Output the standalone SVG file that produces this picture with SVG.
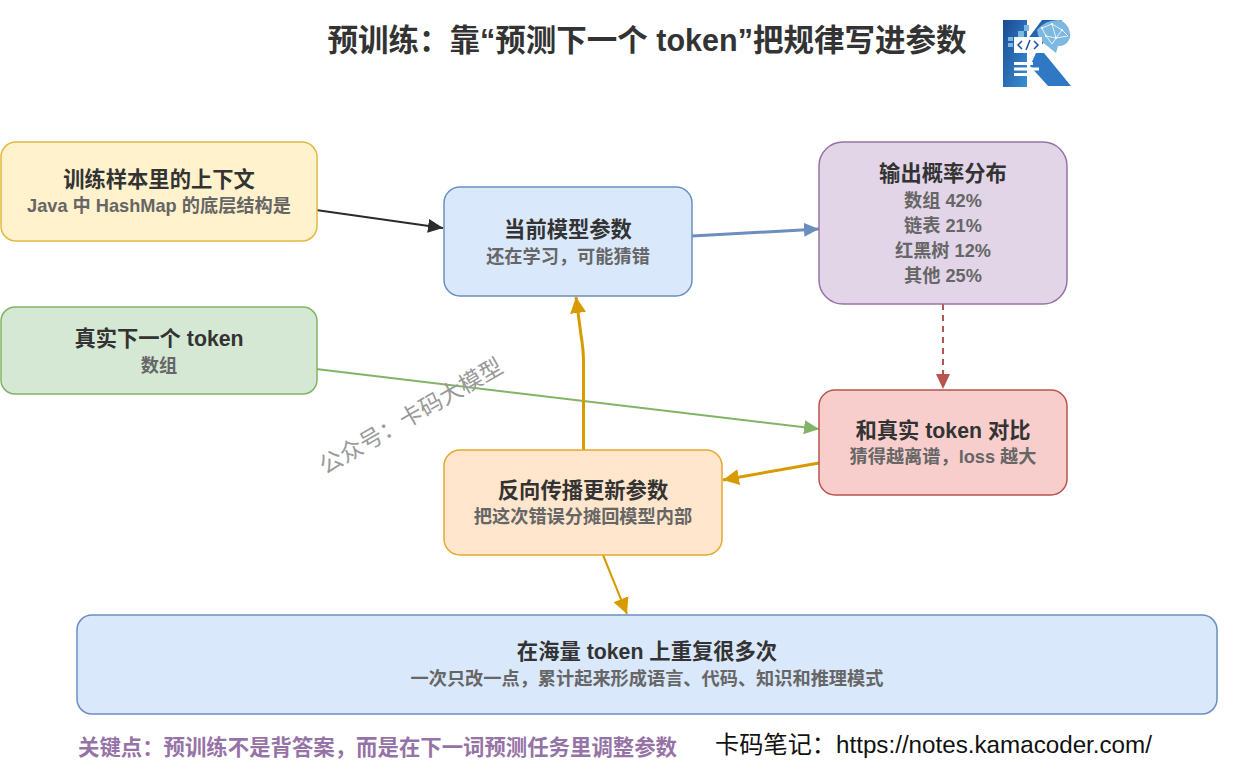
<svg xmlns="http://www.w3.org/2000/svg" width="1234" height="776" viewBox="0 0 1234 776">
<style>
text{font-family:"Liberation Sans","Noto Sans CJK SC",sans-serif;text-anchor:middle}
.t{font-size:21.3px;font-weight:700;fill:#333}
.s{font-size:18.2px;font-weight:700;fill:#666}
.b{stroke-width:1.5}
.c{fill:none}
</style>
<defs>
<linearGradient id="lg" x1="0" y1="0" x2="1" y2="1"><stop offset="0" stop-color="#1a4a94"/><stop offset="1" stop-color="#3a8fd4"/></linearGradient>
<marker id="k" markerUnits="userSpaceOnUse" markerWidth="18" markerHeight="16" refX="15" refY="7" orient="auto"><path d="M0 0L15 7L0 14Z" fill="#2b2b2b"/></marker>
<marker id="bl" markerUnits="userSpaceOnUse" markerWidth="18" markerHeight="16" refX="15" refY="7" orient="auto"><path d="M0 0L15 7L0 14Z" fill="#6c8ebf"/></marker>
<marker id="r" markerUnits="userSpaceOnUse" markerWidth="18" markerHeight="16" refX="15" refY="7" orient="auto"><path d="M0 0L15 7L0 14Z" fill="#b85450"/></marker>
<marker id="g" markerUnits="userSpaceOnUse" markerWidth="18" markerHeight="16" refX="15" refY="7" orient="auto"><path d="M0 0L15 7L0 14Z" fill="#82b366"/></marker>
<marker id="o" markerUnits="userSpaceOnUse" markerWidth="18" markerHeight="18" refX="16" refY="8" orient="auto"><path d="M0 0L16 8L0 16Z" fill="#d79b00"/></marker>
</defs>
<rect width="1234" height="776" fill="#fff"/>
<text x="647" y="50.500" style="font-size:30.5px;font-weight:700;fill:#333">预训练：靠“预测下一个 token”把规律写进参数</text>

<g id="connectors" class="c">
<path d="M316 210L443 228" stroke="#2b2b2b" stroke-width="2" marker-end="url(#k)"/>
<path d="M692 236L819 229" stroke="#6c8ebf" stroke-width="3" marker-end="url(#bl)"/>
<path d="M943 304V389" stroke="#b85450" stroke-width="2" stroke-dasharray="6 5" marker-end="url(#r)"/>
<path d="M316 369L819 429" stroke="#82b366" stroke-width="2" marker-end="url(#g)"/>
<path d="M819 463L723 480" stroke="#d79b00" stroke-width="3" marker-end="url(#o)"/>
<path d="M583.500 450V362Q583.500 350 581 335L576 297" stroke="#d79b00" stroke-width="3" marker-end="url(#o)"/>
<path d="M603 555L627 614" stroke="#d79b00" stroke-width="2" marker-end="url(#o)"/>
</g>

<g id="node-context"><rect class="b" x="1" y="142" width="316" height="99" rx="15" fill="#fff2cc" stroke="#e3b93f"/>
<text class="t" x="159" y="187">训练样本里的上下文</text><text class="s" x="159" y="212">Java 中 HashMap 的底层结构是</text></g>
<g id="node-params"><rect class="b" x="444" y="187" width="248" height="109" rx="16" fill="#dae8fc" stroke="#6c8ebf"/>
<text class="t" x="568" y="236.500">当前模型参数</text><text class="s" x="568" y="263">还在学习，可能猜错</text></g>
<g id="node-output"><rect class="b" x="819" y="142" width="248" height="162" rx="24" fill="#e1d5e7" stroke="#9673a6"/>
<text class="t" x="943" y="181">输出概率分布</text><text class="s" x="943" y="207">数组 42%</text><text class="s" x="943" y="232">链表 21%</text><text class="s" x="943" y="257">红黑树 12%</text><text class="s" x="943" y="282">其他 25%</text></g>
<g id="node-truth"><rect class="b" x="1" y="307" width="316" height="87" rx="14" fill="#d5e8d4" stroke="#82b366"/>
<text class="t" x="159" y="346">真实下一个 token</text><text class="s" x="159" y="372">数组</text></g>
<g id="node-compare"><rect class="b" x="819" y="390" width="248" height="105" rx="16" fill="#f8cecc" stroke="#b85450"/>
<text class="t" x="943" y="437.500">和真实 token 对比</text><text class="s" x="943" y="463">猜得越离谱，loss 越大</text></g>
<g id="node-backprop"><rect class="b" x="444" y="450" width="278" height="105" rx="16" fill="#ffe6cc" stroke="#e3a92a"/>
<text class="t" x="583" y="498">反向传播更新参数</text><text class="s" x="583" y="523">把这次错误分摊回模型内部</text></g>
<g id="node-repeat"><rect class="b" x="77" y="615" width="1140" height="99" rx="15" fill="#dae8fc" stroke="#6c8ebf"/>
<text class="t" x="647" y="659">在海量 token 上重复很多次</text><text class="s" x="647" y="685">一次只改一点，累计起来形成语言、代码、知识和推理模式</text></g>

<text x="377.500" y="755" style="font-size:21.4px;font-weight:700;fill:#9673a6">关键点：预训练不是背答案，而是在下一词预测任务里调整参数</text>
<text x="933.500" y="753" style="font-size:24.2px;fill:#111">卡码笔记：https://notes.kamacoder.com/</text>
<text x="415" y="423" transform="rotate(-30 415 423)" style="font-size:23px;fill:#999">公众号：卡码大模型</text>

<g id="logo">
<path d="M1003 20H1027V87H1003Z" fill="url(#lg)"/>
<path d="M1027 40L1042 20H1062L1036 52H1027Z" fill="#2463ae"/>
<path d="M1036 53H1044L1071 86H1048L1030 66Z" fill="#2f78c4"/>
<path d="M1037 30Q1046 19 1060 20Q1071 25 1070 38Q1066 47 1058 46L1056 53L1046 45Q1038 40 1037 30Z" fill="#7cb8e0"/>
<path d="M1042 28L1052 24L1062 30L1068 36L1056 38L1046 36L1042 28M1052 24L1056 38L1062 30M1046 36L1052 44L1056 38" fill="none" stroke="#fff" stroke-width=".8"/>
<g fill="#fff"><circle cx="1042" cy="28" r="1"/><circle cx="1052" cy="24" r="1"/><circle cx="1062" cy="30" r="1"/><circle cx="1056" cy="38" r="1"/><circle cx="1046" cy="36" r="1"/></g>
<rect x="1014" y="37" width="28" height="16" fill="#fff"/>
<path d="M1022 41L1018 45L1022 49M1034 41L1038 45L1034 49M1030 40L1026 50" fill="none" stroke="#1f4f9c" stroke-width="1.500"/>
<path d="M1014 62H1033V65H1014ZM1014 67.500H1039V70.500H1014ZM1014 73H1030V76H1014Z" fill="#fff"/>
<path d="M1018 31h6v6h-6zM1024 25h5v6h-5zM1008 37h5v4h-5zM1008 43h5v4h-5z" fill="#7cb8e0"/>
</g>
</svg>
